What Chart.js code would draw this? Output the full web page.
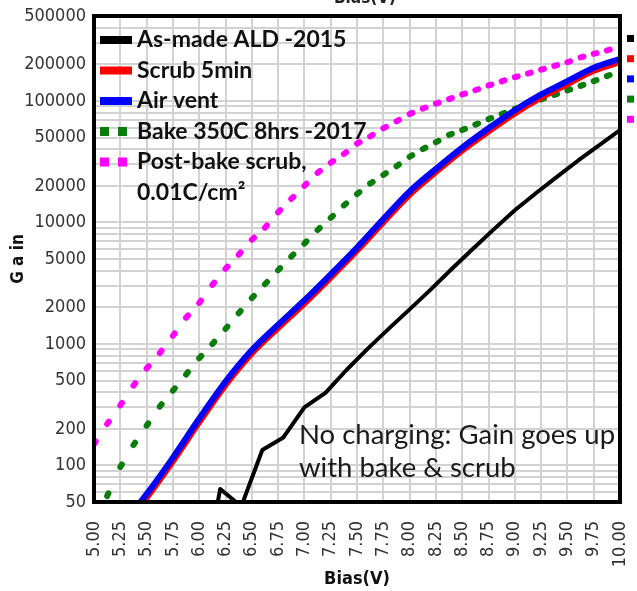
<!DOCTYPE html>
<html lang="en">
<head>
  <meta charset="UTF-8" />
  <title>Gain vs Bias</title>
  <script src="https://cdn.jsdelivr.net/npm/chart.js@4.4.1/dist/chart.umd.min.js"></script>
  <style>
    html, body { margin: 0; padding: 0; background: #fff; }
    #wrap { width: 637px; height: 591px; }
  </style>
</head>
<body>
<div id="wrap"><canvas id="gainChart" width="637" height="591"></canvas></div>
<script>
  // bias points (V)
  const biasFine = [5.000, 5.125, 5.250, 5.375, 5.500, 5.625, 5.750, 5.875, 6.000, 6.125,
    6.250, 6.375, 6.500, 6.625, 6.750, 6.875, 7.000, 7.125, 7.250, 7.375,
    7.500, 7.625, 7.750, 7.875, 8.000, 8.125, 8.250, 8.375, 8.500, 8.625,
    8.750, 8.875, 9.000, 9.125, 9.250, 9.375, 9.500, 9.625, 9.750, 9.875, 10.000];
  const biasCoarse = [5.25, 5.5, 5.75, 6.0, 6.25, 6.5, 6.75, 7.0, 7.25, 7.5,
    7.75, 8.0, 8.25, 8.5, 8.75, 9.0, 9.25, 9.5, 9.75, 10.0];
  const biasAsMade = [6.0, 6.2, 6.4, 6.6, 6.8, 7.0, 7.2, 7.4, 7.6, 7.8, 8.0,
    8.2, 8.4, 8.6, 8.8, 9.0, 9.2, 9.4, 9.6, 9.8, 10.0];

  // gain values
  const asMadeGain = [8, 64, 46, 134, 170, 300, 395, 610, 910, 1330, 1925,
    2800, 4140, 6040, 8760, 12600, 17400, 23700, 32200, 43000, 57500];
  const scrubGain = [29, 54, 108, 226, 458, 835, 1350, 2150, 3520, 5850,
    10000, 16900, 26000, 39000, 56000, 79000, 106500, 137000, 177000, 209000];
  const airVentGain = [31, 58, 116, 243, 490, 890, 1440, 2290, 3740, 6210,
    10650, 18000, 27600, 41300, 59500, 83800, 113000, 145500, 187500, 222000];
  const bakeGain = [32, 56, 97, 147, 212, 305, 412, 560, 763, 1000,
    1330, 1790, 2380, 3100, 4040, 5240, 6700, 8650, 10900, 13800,
    17100, 20900, 24600, 29000, 34700, 40100, 45700, 52500, 57600, 63800,
    70800, 78000, 86200, 94000, 103000, 112000, 122000, 133000, 145500, 160000, 176000];
  const postBakeGain = [150, 219, 312, 454, 628, 840, 1165, 1645, 2170, 3060,
    4150, 5430, 7200, 9050, 12100, 15600, 20000, 25600, 31000, 36500,
    44500, 51000, 59500, 68000, 78000, 86500, 95000, 103500, 113000, 122500,
    134000, 145000, 157000, 168000, 181000, 194000, 208000, 228000, 244000, 260000, 282000];

  const seriesLabels = ["As-made ALD -2015", "Scrub 5min", "Air vent",
    "Bake 350C 8hrs -2017", "Post-bake scrub,\n0.01C/cm\u00b2"];
  const seriesColors = ["#000000", "#ff0000", "#0000ff", "#0a7d0a", "#ff00ff"];

  // y axis: labelled ticks and the full log grid
  const yLabelled = [50, 100, 200, 500, 1000, 2000, 5000, 10000, 20000, 50000, 100000, 200000, 500000];
  const yTicks = [50, 60, 70, 80, 90];
  for (let d = 100; d <= 100000; d *= 10) {
    for (let m = 1; m <= 9; m++) {
      if (m * d <= 500000) yTicks.push(m * d);
    }
  }

  const pts = (xs, ys) => xs.map((x, i) => ({ x: x, y: ys[i] }));
  const narrow = "'Liberation Sans Narrow', 'DejaVu Sans Condensed', sans-serif";

  // dash restarts at each point (like the original plot)
  const perPointDash = { borderDashOffset: c => (c.p0DataIndex % 2) * 0.01 };

  const datasets = [
    { label: seriesLabels[0], data: pts(biasAsMade, asMadeGain), borderColor: seriesColors[0],
      borderWidth: 4, tension: 0, order: 0 },
    { label: seriesLabels[1], data: pts(biasCoarse, scrubGain), borderColor: seriesColors[1],
      borderWidth: 6, cubicInterpolationMode: "monotone", order: 2 },
    { label: seriesLabels[2], data: pts(biasCoarse, airVentGain), borderColor: seriesColors[2],
      borderWidth: 6, cubicInterpolationMode: "monotone", order: 1 },
    { label: seriesLabels[3], data: pts(biasFine, bakeGain), borderColor: seriesColors[3],
      borderWidth: 6, borderDash: [3, 200], borderCapStyle: "round", segment: perPointDash, order: 3 },
    { label: seriesLabels[4], data: pts(biasFine, postBakeGain), borderColor: seriesColors[4],
      borderWidth: 6, borderDash: [3, 200], borderCapStyle: "round", segment: perPointDash, order: 4 },
  ];
  datasets.forEach(ds => {
    ds.showLine = true;
    ds.pointRadius = 0;
    ds.pointHoverRadius = 0;
    ds.fill = false;
    ds.clip = 0;
    ds.borderJoinStyle = "round";
  });

  const extrasPlugin = {
    id: "extras",
    afterDatasetsDraw(chart) {
      const ctx = chart.ctx;
      const a = chart.chartArea;
      ctx.save();
      // plot frame
      ctx.strokeStyle = "#000";
      ctx.lineWidth = 4;
      ctx.strokeRect(a.left, a.top, a.right - a.left, a.bottom - a.top);

      // legend inside the plot
      ctx.textBaseline = "middle";
      ctx.textAlign = "left";
      ctx.font = "bold 23px Lato, sans-serif";
      chart.data.datasets.forEach((ds, i) => {
        const y = 40 + i * 30.5;
        ctx.fillStyle = ds.borderColor;
        if (ds.borderDash) {
          ctx.fillRect(100, y - 4.5, 9, 9);
          ctx.fillRect(118, y - 4.5, 9, 9);
        } else {
          ctx.fillRect(100, y - 4, 32, 8);
        }
        ctx.fillStyle = "#111";
        ds.label.split("\n").forEach((line, j) => ctx.fillText(line, 137, y + j * 31));
      });

      // note
      ctx.font = "27.5px Lato, sans-serif";
      ctx.fillStyle = "#1a1a1a";
      ctx.fillText("No charging: Gain goes up", 299, 435);
      ctx.fillText("with bake & scrub", 299, 468);

      // cut-off pieces from neighbouring slide content
      ctx.font = "bold 17px " + narrow;
      ctx.textAlign = "center";
      ctx.textBaseline = "alphabetic";
      ctx.fillStyle = "#222";
      ctx.fillText("Bias(V)", 365, 3);
      seriesColors.forEach((c, i) => {
        ctx.fillStyle = c;
        ctx.fillRect(627, 35 + i * 20.2, 7, 7);
      });
      ctx.restore();
    }
  };

  const ctx = document.getElementById("gainChart");
  const gainChart = new Chart(ctx, {
    type: "scatter",
    data: { datasets: datasets },
    options: {
      responsive: false,
      animation: false,
      events: [],
      layout: { padding: { left: 0, right: 17, top: 16, bottom: 0 } },
      plugins: {
        legend: { display: false },
        title: { display: false },
        tooltip: { enabled: false },
      },
      scales: {
        x: {
          type: "linear",
          min: 5,
          max: 10,
          border: { display: false },
          grid: { color: "#d2d2d2", lineWidth: 2, drawTicks: false },
          ticks: {
            stepSize: 0.25,
            autoSkip: false,
            minRotation: 90,
            maxRotation: 90,
            padding: 19,
            color: "#333",
            font: { family: narrow, size: 18 },
            callback: v => Number(v).toFixed(2),
          },
          title: {
            display: true,
            text: "Bias(V)",
            color: "#111",
            font: { family: narrow, size: 18, weight: "bold" },
            padding: { top: 0, bottom: 1 },
          },
          afterFit: s => {
            s.height = 89;
            s.paddingLeft = 0;
            s.paddingRight = 0;
          },
        },
        y: {
          type: "logarithmic",
          min: 50,
          max: 500000,
          border: { display: false },
          grid: { color: "#d2d2d2", lineWidth: 2, drawTicks: false },
          afterBuildTicks: s => { s.ticks = yTicks.map(v => ({ value: v })); },
          ticks: {
            autoSkip: false,
            padding: 8,
            color: "#333",
            font: { family: narrow, size: 18 },
            callback: v => (yLabelled.includes(v) ? String(v) : ""),
          },
          title: {
            display: true,
            text: "G a in",
            color: "#111",
            font: { family: narrow, size: 17, weight: "bold" },
            padding: { top: 8, bottom: 0 },
          },
          afterFit: s => {
            s.width = 94;
            s.paddingTop = 0;
            s.paddingBottom = 0;
          },
        },
      },
    },
    plugins: [extrasPlugin],
  });
</script>
</body>
</html>
